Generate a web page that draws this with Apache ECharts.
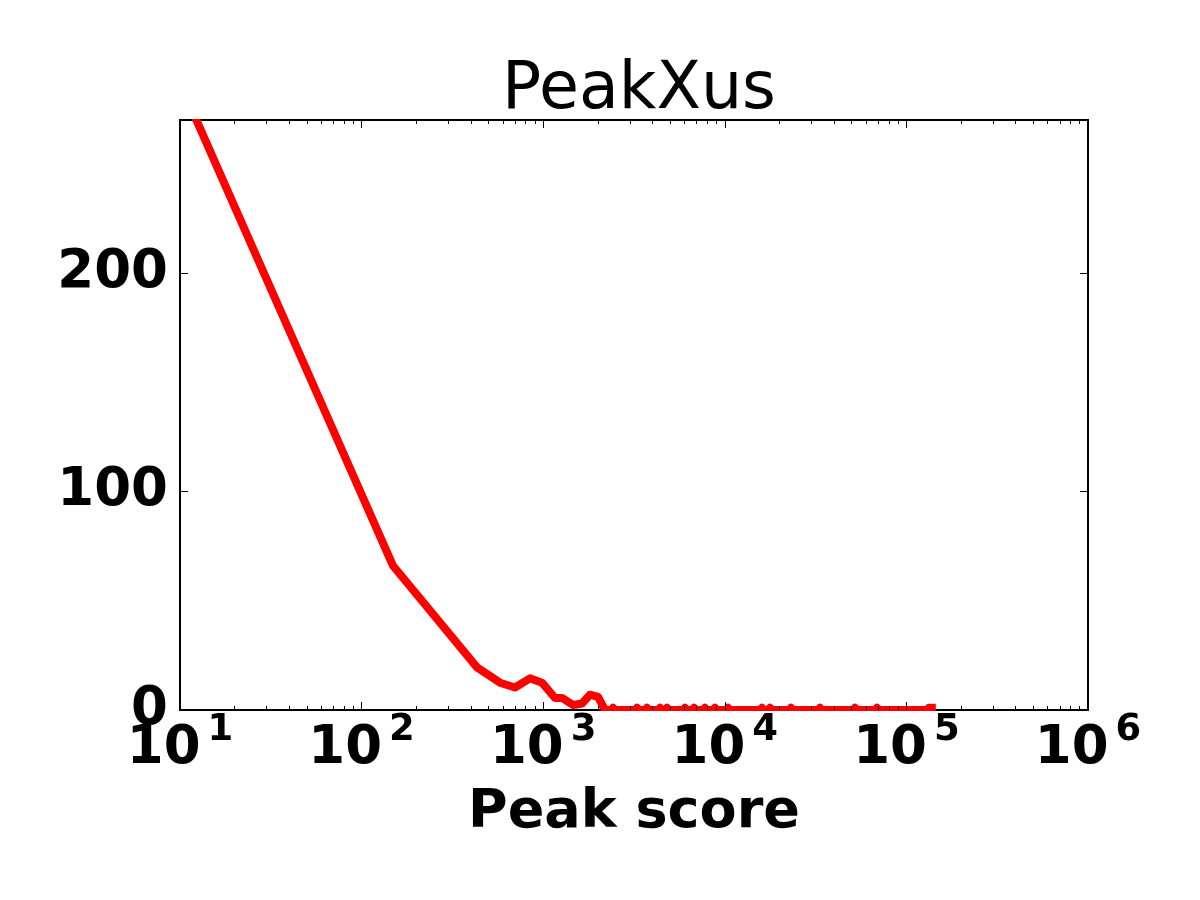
<!DOCTYPE html>
<html>
<head>
<meta charset="utf-8">
<script src="https://cdn.jsdelivr.net/npm/echarts@6/dist/echarts.min.js"></script>
<style>html,body{margin:0;padding:0;background:#fff;}#c{width:1200px;height:900px;}</style>
</head>
<body>
<div id="c"></div>
<script>
// ---- data ----
const scores = [10.5, 149, 432, 578, 699, 846, 985, 1161, 1269, 1459, 1636, 1810, 2004, 2190,
  2375, 2423, 2470,
  3220, 3285, 3350,
  3660, 3729, 3800,
  4310, 4398, 4480,
  4710, 4806, 4900,
  5920, 6037, 6150,
  6630, 6767, 6900,
  7630, 7780, 7930,
  8660, 8831, 9000,
  10210, 10414, 10620,
  15720, 16026, 16330,
  17400, 17740, 18080,
  22700, 23150, 23600,
  32800, 33440, 34080,
  51100, 52120, 53120,
  67600, 68900, 70200,
  131000, 133000, 138000];
const counts = [283, 66, 19.5, 12.5, 10.3, 14.5, 12.5, 5.5, 5.5, 2.3, 3, 7, 6, 0,
  0, 1, 0,
  0, 1, 0,
  0, 1, 0,
  0, 1, 0,
  0, 1, 0,
  0, 1, 0,
  0, 1, 0,
  0, 1, 0,
  0, 1, 0,
  0, 1, 0,
  0, 1, 0,
  0, 1, 0,
  0, 1, 0,
  0, 1, 0,
  0, 1, 0,
  0, 1, 0,
  0, 1, 1];
const xMajorTicks = [10, 100, 1000, 10000, 100000, 1000000];
const yTicks = [0, 100, 200];
const titleText = 'PeakXus';
const xName = 'Peak score';

// minor ticks 2..9 per decade
const xMinorTicks = [];
for (let i = 0; i < xMajorTicks.length - 1; i++) {
  for (let m = 2; m <= 9; m++) xMinorTicks.push(xMajorTicks[i] * m);
}

const FONT = 'DejaVu Sans';
const chart = echarts.init(document.getElementById('c'), null, {renderer: 'canvas'});

function xAxisDef(pos, ticks, len, labels) {
  const ax = {
    type: 'log', logBase: 10, min: 10, max: 1000000, position: pos,
    axisLine: {show: false},
    splitLine: {show: false},
    minorTick: {show: false},
    axisTick: {show: true, inside: true, length: len, customValues: ticks,
      lineStyle: {color: '#000', width: 1}},
    axisLabel: {show: false},
    z: 10
  };
  if (labels) {
    ax.axisLabel = {
      show: true, customValues: xMajorTicks, margin: 2,
      showMinLabel: true, showMaxLabel: true, hideOverlap: false,
      formatter: function (v) {
        return '{b|10}{s|' + Math.round(Math.log10(v)) + '}';
      },
      rich: {
        b: {fontFamily: FONT, fontWeight: 'bold', fontSize: 53, color: '#000',
            lineHeight: 64, verticalAlign: 'bottom'},
        s: {fontFamily: FONT, fontWeight: 'bold', fontSize: 37, color: '#000',
            lineHeight: 30, verticalAlign: 'top', padding: [0, 0, 0, 7]}
      }
    };
    ax.name = xName;
    ax.nameLocation = 'middle';
    ax.nameGap = 76;
    ax.nameTextStyle = {fontFamily: FONT, fontWeight: 'bold', fontSize: 54, color: '#000'};
  }
  return ax;
}
function yAxisDef(pos, labels) {
  return {
    type: 'value', min: 0, max: 270, position: pos,
    axisLine: {show: false},
    splitLine: {show: false},
    axisTick: {show: true, inside: true, length: 8, customValues: yTicks,
      lineStyle: {color: '#000', width: 1}},
    axisLabel: labels ? {show: true, customValues: yTicks, margin: 12,
      padding: [0, 0, 10, 0],
      fontFamily: FONT, fontWeight: 'bold', fontSize: 53, color: '#000'} : {show: false},
    z: 10
  };
}

chart.setOption({
  animation: false,
  backgroundColor: '#fff',
  title: {
    text: titleText, left: 634, textAlign: 'center', top: 54,
    textStyle: {fontFamily: FONT, fontWeight: 'normal', fontSize: 65, color: '#000'}
  },
  grid: {left: 180, right: 112, top: 120, bottom: 190, show: true,
    borderColor: '#000', borderWidth: 2, backgroundColor: 'transparent'},
  xAxis: [
    xAxisDef('bottom', xMajorTicks, 8, true),
    xAxisDef('bottom', xMinorTicks, 4, false),
    xAxisDef('top', xMajorTicks, 8, false),
    xAxisDef('top', xMinorTicks, 4, false)
  ],
  yAxis: [yAxisDef('left', true), yAxisDef('right', false)],
  graphic: [
    {type: 'rect', z: 5, silent: true, shape: {x: 590, y: 711, width: 500, height: 4}, style: {fill: '#fff'}},
    {type: 'rect', z: 5, silent: true, shape: {x: 170, y: 110, width: 60, height: 9}, style: {fill: '#fff'}}
  ],
  series: [{
    type: 'line', xAxisIndex: 0, yAxisIndex: 0,
    data: scores.map((s, i) => [s, counts[i]]),
    showSymbol: false, symbol: 'none',
    lineStyle: {color: '#ff0000', width: 8, join: 'round', cap: 'square'},
    clip: true, z: 2
  }]
});
</script>
</body>
</html>
